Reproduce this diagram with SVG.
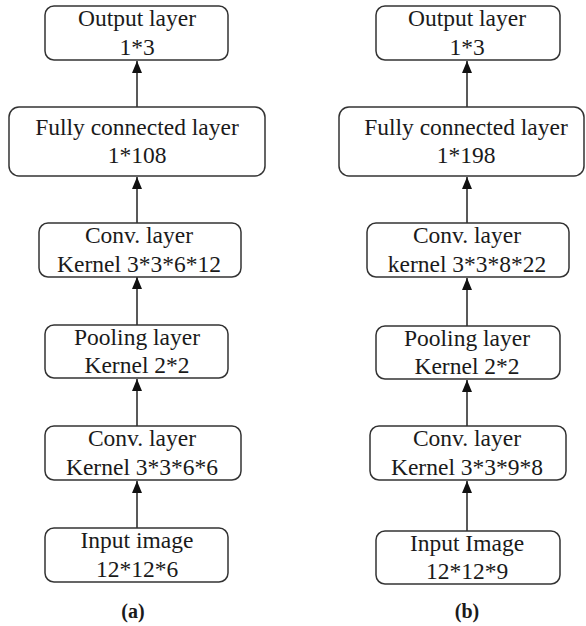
<svg xmlns="http://www.w3.org/2000/svg" width="586" height="626" viewBox="0 0 586 626">
<style>
.box{fill:#fff;stroke:#333;stroke-width:1.5}
.t{font-family:"Liberation Serif","Times New Roman",serif;font-size:23.5px;fill:#1a1a1a;text-anchor:middle}
.cap{font-family:"Liberation Serif","Times New Roman",serif;font-size:20px;font-weight:bold;fill:#1a1a1a;text-anchor:middle}
.c{stroke:#222;stroke-width:1.5;fill:none;marker-end:url(#a2)}
</style>
<defs>
<marker id="a2" markerWidth="12" markerHeight="10" refX="12" refY="5" orient="auto" markerUnits="userSpaceOnUse" viewBox="0 0 12 10">
<path d="M0,0 L12,5 L0,10 Z" fill="#111"/>
</marker>
</defs>
<g id="connectors">
<line class="c" x1="137" y1="107" x2="137" y2="61"/>
<line class="c" x1="137" y1="223" x2="137" y2="177"/>
<line class="c" x1="137" y1="325" x2="137" y2="277"/>
<line class="c" x1="137" y1="426" x2="137" y2="379"/>
<line class="c" x1="137" y1="528" x2="137" y2="481"/>
<line class="c" x1="467" y1="107" x2="467" y2="61"/>
<line class="c" x1="467" y1="223" x2="467" y2="177"/>
<line class="c" x1="467" y1="326" x2="467" y2="278"/>
<line class="c" x1="467" y1="426" x2="467" y2="380"/>
<line class="c" x1="467" y1="531" x2="467" y2="481"/>
</g>
<g id="a-output"><rect class="box" x="45" y="6" width="183" height="54" rx="9"/><text class="t" x="137" y="26">Output layer</text><text class="t" x="137" y="55">1*3</text></g>
<g id="a-fc"><rect class="box" x="9" y="107" width="256" height="69" rx="10"/><text class="t" x="137" y="135">Fully connected layer</text><text class="t" x="137" y="163">1*108</text></g>
<g id="a-conv2"><rect class="box" x="39" y="223" width="202" height="54" rx="9"/><text class="t" x="139" y="243">Conv. layer</text><text class="t" x="139" y="272">Kernel 3*3*6*12</text></g>
<g id="a-pool"><rect class="box" x="45" y="325" width="183" height="53" rx="9"/><text class="t" x="137" y="345">Pooling layer</text><text class="t" x="137" y="373">Kernel 2*2</text></g>
<g id="a-conv1"><rect class="box" x="45" y="426" width="196" height="54" rx="9"/><text class="t" x="142" y="446">Conv. layer</text><text class="t" x="142" y="475">Kernel 3*3*6*6</text></g>
<g id="a-input"><rect class="box" x="45" y="528" width="183" height="54" rx="9"/><text class="t" x="137" y="548">Input image</text><text class="t" x="137" y="577">12*12*6</text></g>
<text class="cap" x="133" y="618">(a)</text>
<g id="b-output"><rect class="box" x="376" y="6" width="184" height="54" rx="9"/><text class="t" x="467" y="26">Output layer</text><text class="t" x="467" y="55">1*3</text></g>
<g id="b-fc"><rect class="box" x="339" y="107" width="245" height="69" rx="10"/><text class="t" x="466" y="135">Fully connected layer</text><text class="t" x="466" y="163">1*198</text></g>
<g id="b-conv2"><rect class="box" x="367" y="223" width="202" height="54" rx="9"/><text class="t" x="467" y="243">Conv. layer</text><text class="t" x="467" y="272">kernel 3*3*8*22</text></g>
<g id="b-pool"><rect class="box" x="376" y="326" width="184" height="53" rx="9"/><text class="t" x="467" y="346">Pooling layer</text><text class="t" x="467" y="374">Kernel 2*2</text></g>
<g id="b-conv1"><rect class="box" x="370" y="426" width="196" height="54" rx="9"/><text class="t" x="467" y="446">Conv. layer</text><text class="t" x="467" y="475">Kernel 3*3*9*8</text></g>
<g id="b-input"><rect class="box" x="376" y="531" width="184" height="53" rx="9"/><text class="t" x="467" y="551">Input Image</text><text class="t" x="467" y="579">12*12*9</text></g>
<text class="cap" x="467" y="618">(b)</text>
</svg>
